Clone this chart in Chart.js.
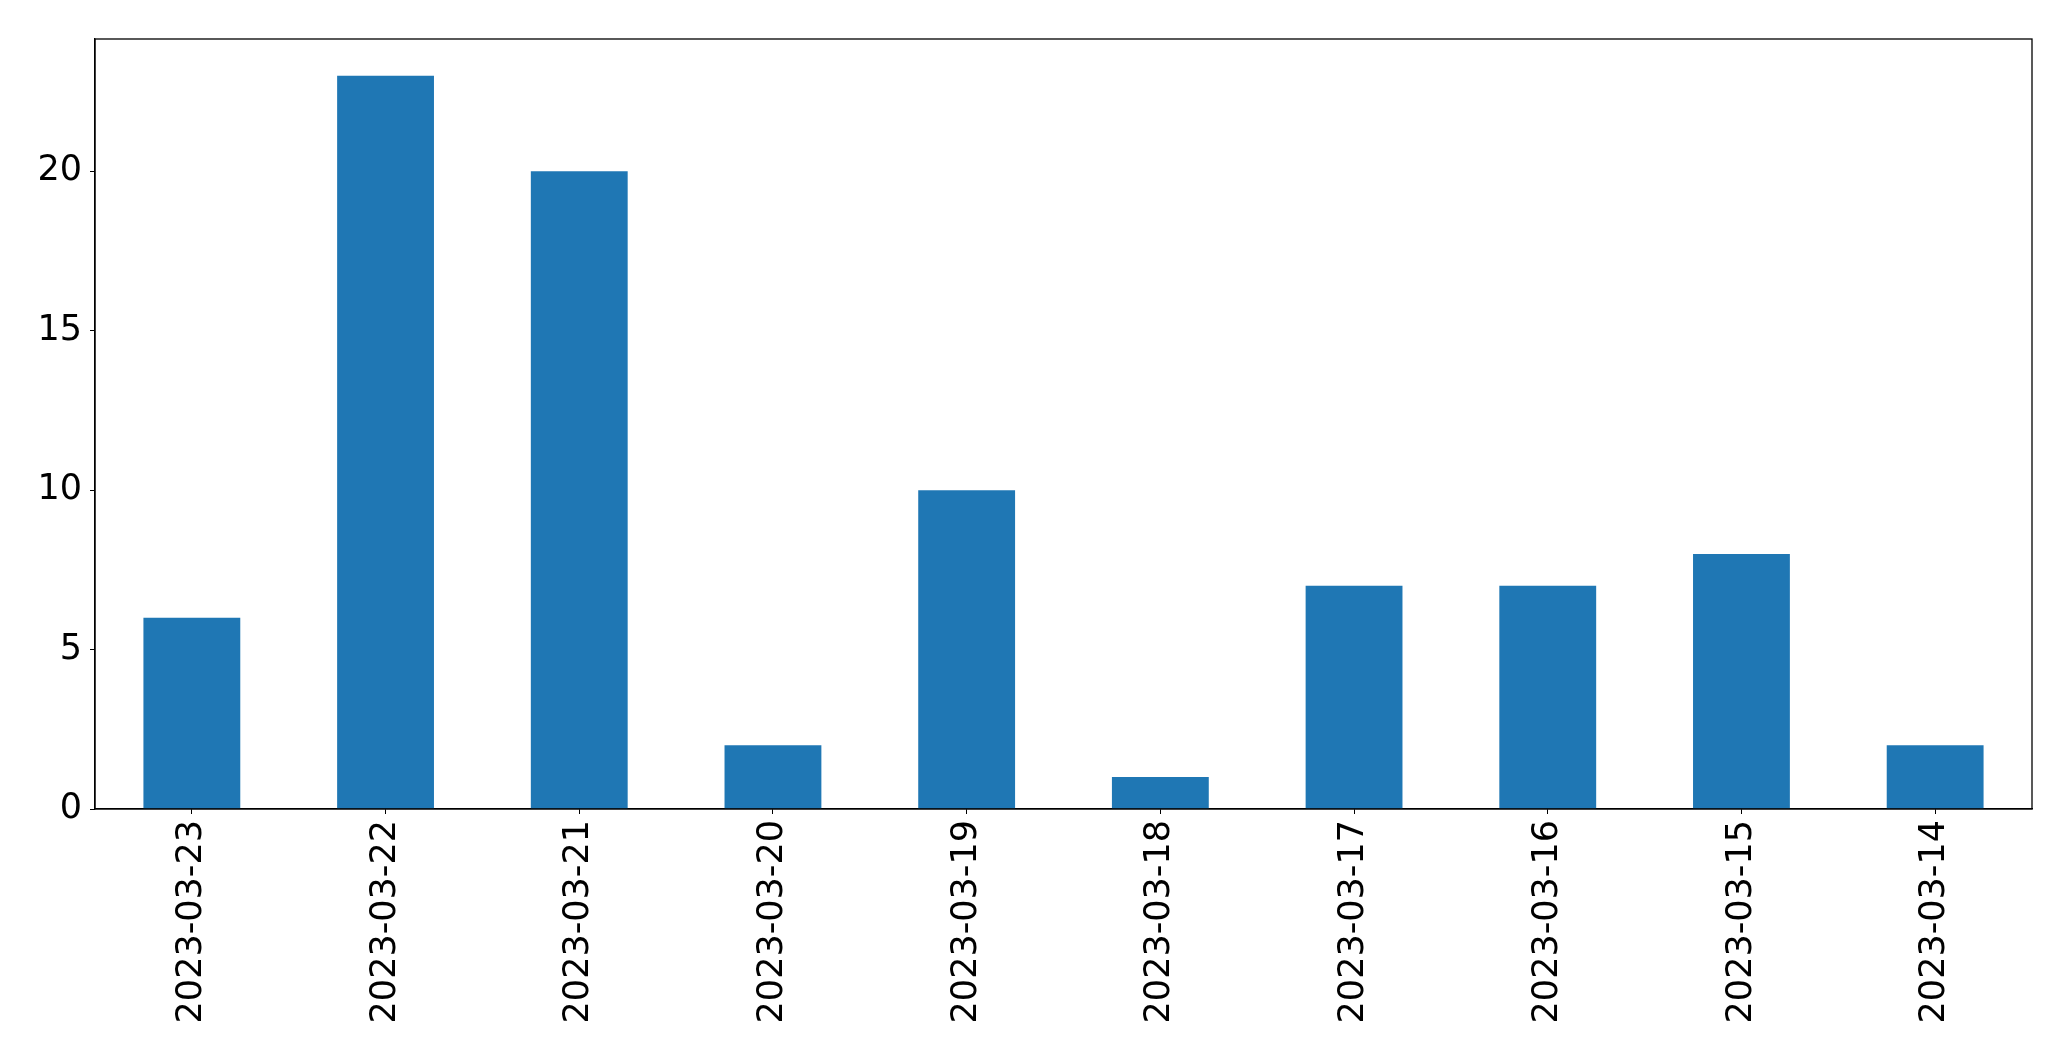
<!DOCTYPE html>
<html>
<head>
<meta charset="utf-8">
<script src="https://cdn.jsdelivr.net/npm/chart.js@4.4.0/dist/chart.umd.min.js"></script>
<style>
  html, body { margin: 0; padding: 0; background: #fff; }
  #quadro { width: 2071px; height: 1061px; }
</style>
</head>
<body>
<div id="quadro"><canvas id="grafico_barras"></canvas></div>
<script>
// dados
let datas = ['2023-03-23', '2023-03-22', '2023-03-21', '2023-03-20', '2023-03-19',
             '2023-03-18', '2023-03-17', '2023-03-16', '2023-03-15', '2023-03-14']
let contagens = [6, 23, 20, 2, 10, 1, 7, 7, 8, 2]
let ticksY = [0, 5, 10, 15, 20]

let graficoBarras = document.getElementById('grafico_barras')

// moldura em volta da área do gráfico (estilo matplotlib)
const moldura = {
    id: 'moldura',
    afterDraw(chart) {
        let ctx = chart.ctx
        let a = chart.chartArea
        ctx.save()
        ctx.strokeStyle = '#000'
        ctx.lineWidth = 1.3
        ctx.strokeRect(a.left, a.top, a.right - a.left, a.bottom - a.top)
        ctx.restore()
    }
}

let fonte = { family: 'DejaVu Sans', size: 35 }

new Chart(graficoBarras, {
    type: 'bar',
    data: {
        labels: datas,
        datasets: [{
            data: contagens,
            backgroundColor: '#1f77b4',
            borderWidth: 0,
            categoryPercentage: 0.5,
            barPercentage: 1.0
        }]
    },
    options: {
        responsive: true,
        maintainAspectRatio: false,
        animation: false,
        layout: { padding: { top: 39, right: 39, left: 0, bottom: 0 } },
        plugins: {
            legend: { display: false },
            tooltip: { enabled: false }
        },
        scales: {
            x: {
                offset: true,
                grid: { drawOnChartArea: false, drawTicks: true, tickLength: 5, tickColor: '#000', offset: false },
                border: { display: true, color: '#000', width: 1.3 },
                ticks: { color: '#000', font: fonte, minRotation: 90, maxRotation: 90, padding: 6, autoSkip: false },
                afterFit(scale) { scale.height = 252 }
            },
            y: {
                min: 0,
                max: Math.max(...contagens) * 1.05,
                afterBuildTicks(scale) { scale.ticks = ticksY.map(v => ({ value: v })) },
                grid: { drawOnChartArea: false, drawTicks: true, tickLength: 5, tickColor: '#000' },
                border: { display: true, color: '#000', width: 1.3 },
                ticks: { color: '#000', font: fonte, padding: 8 },
                afterFit(scale) { scale.width = 95 }
            }
        }
    },
    plugins: [moldura]
})
</script>
</body>
</html>
